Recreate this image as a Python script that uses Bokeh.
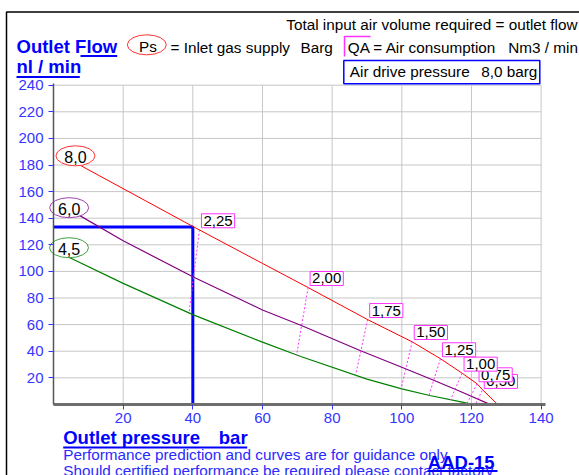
from bokeh.plotting import figure
from bokeh.models import Range1d, LinearAxis, FixedTicker, ColumnDataSource
from bokeh.core.properties import value
from bokeh.embed import file_html
from bokeh.resources import INLINE

# ---------------- data ----------------
x_ticks = [20, 40, 60, 80, 100, 120, 140]
y_ticks = [20, 40, 60, 80, 100, 120, 140, 160, 180, 200, 220, 240]

# Inlet supply pressure curves (Ps, barg): outlet pressure (bar) -> outlet flow (nl/min)
red_x = [7.5, 39.5, 60, 73, 90, 103, 111, 117.3, 121.6, 123.2, 127.5]
red_y = [180, 134.5, 106, 88, 64, 47, 34.5, 23.5, 15.5, 11.0, 0]
purple_x = [4.2, 20, 40, 60, 71, 88, 100.7, 108.8, 117, 125.3]
purple_y = [147, 123, 96, 71, 59.5, 40.5, 27.2, 18.5, 9.5, 0]
green_x = [4.4, 20, 40, 60, 71, 90, 100, 108, 116, 119, 124.5]
green_y = [110.7, 91, 67.5, 46.8, 36, 19, 11.7, 6.7, 2.4, 0.8, 0]

ps_labels = ["8,0", "6,0", "4,5"]
ps_x = [6.3, 4.5, 4.45]
ps_y = [186.9, 147.9, 117.8]
ps_colors = ["#ff3333", "#a040b0", "#40a040"]

# Air consumption (QA, Nm3/min) iso-lines
qa_labels = ["2,25", "2,00", "1,75", "1,50", "1,25", "1,00", "0,75", "0,50"]
qa_x = [41.9, 73.1, 90.2, 103.0, 111.1, 117.3, 121.6, 123.1]
qa_y = [131.3, 87.9, 63.8, 47.3, 34.3, 23.5, 15.5, 10.5]
qa_end_x = [38.9, 69.8, 86.7, 99.8, 107.8, 114.0, 118.8, 121.2]
qa_end_y = [68.5, 37.0, 21.7, 11.8, 6.9, 3.5, 1.0, 0.4]

# operating point
op_x = 40
op_y = 133.3

# ---------------- layout helpers ----------------
W, H = 579, 475
X0, SX = 53.0, 3.483      # page px of x=0, px per unit
Y0, SY = 403.9, 1.33      # page px of y=0, px per unit
BASE_FIX = 6.3            # renderer places alphabetic baseline lower


def dx(px):
    return (px - X0) / SX


def dy(py):
    return (Y0 - py) / SY


FONT = value("Liberation Sans")
BLUE = "#0000ff"
TICKBLUE = "#3535ff"

p = figure(width=W, height=H, output_backend="svg", toolbar_location=None,
           x_range=Range1d(dx(0), dx(W)), y_range=Range1d(dy(H), dy(0)),
           x_axis_type=None, y_axis_type=None, min_border=0,
           outline_line_color=None, background_fill_color="white",
           border_fill_color="white")

# grid
p.segment(x0=x_ticks, y0=[0] * len(x_ticks), x1=x_ticks, y1=[max(y_ticks)] * len(x_ticks),
          line_color="#c6c6c6", line_width=1)
p.segment(x0=[0] * len(y_ticks), y0=y_ticks, x1=[max(x_ticks)] * len(y_ticks), y1=y_ticks,
          line_color="#c6c6c6", line_width=1)

# axes
xa = LinearAxis(fixed_location=0, bounds=(0, 141.3), ticker=FixedTicker(ticks=x_ticks))
ya = LinearAxis(fixed_location=0, bounds=(0, 241.5), ticker=FixedTicker(ticks=y_ticks))
for ax in (xa, ya):
    ax.major_tick_line_color = TICKBLUE
    ax.major_tick_out = 5
    ax.major_tick_in = 0
    ax.minor_tick_line_color = None
    ax.major_label_text_color = TICKBLUE
    ax.major_label_text_font = "Liberation Sans"
    ax.major_label_text_font_size = "15px"
xa.axis_line_color = "#6e6e6e"
xa.axis_line_width = 3
xa.major_label_standoff = 4
ya.axis_line_color = "#555555"
ya.axis_line_width = 1.5
ya.major_label_standoff = 5
p.add_layout(xa, "below")
p.add_layout(ya, "left")

# operating point lines
p.line([0, op_x, op_x], [op_y, op_y, 0], line_color=BLUE, line_width=3)

# curves
p.line(red_x, red_y, line_color="#ff0000", line_width=1)
p.line(purple_x, purple_y, line_color="#800080", line_width=1.2)
p.line(green_x, green_y, line_color="#008000", line_width=1.2)

# QA dotted lines
p.segment(x0=qa_x, y0=qa_y, x1=qa_end_x, y1=qa_end_y,
          line_color="#ff33ff", line_dash="2 2", line_width=1)

# QA labels (draw smallest first so larger overlay)
qsrc = ColumnDataSource(dict(x=qa_x[::-1], y=qa_y[::-1], t=qa_labels[::-1]))
p.text(x="x", y="y", text="t", source=qsrc, text_font=FONT, text_font_size="15px",
       text_color="black", text_align="left", text_baseline="bottom",
       background_fill_color="white", border_line_color="#ff33ff", padding=2,
       x_offset=2, y_offset=-2)

# Ps ellipses on curves
p.ellipse(x=ps_x, y=ps_y, width=39, height=20, width_units="screen", height_units="screen",
          fill_color="white", line_color=ps_colors, line_width=1)
p.text(x=ps_x, y=ps_y, text=ps_labels, text_font=FONT, text_font_size="16px",
       text_color="black", text_align="center", text_baseline="middle", y_offset=1)


def txt(px, py, s, size="15.3px", color="black", bold=False, align="left"):
    p.text(x=[dx(px)], y=[dy(py - BASE_FIX)], text=[s], text_font=FONT, text_font_size=size,
           text_color=color, text_font_style="bold" if bold else "normal",
           text_align=align, text_baseline="alphabetic")


def uline(px0, px1, py):
    p.line([dx(px0), dx(px1)], [dy(py), dy(py)], line_color=BLUE, line_width=2)


# frame border
p.line([dx(6), dx(6), dx(579)], [dy(475), dy(11.5), dy(11.5)],
       line_color="black", line_width=1.5)

# header
txt(577, 30, "Total input air volume required = outlet flow", align="right")
txt(16, 52.3, "Outlet Flow", size="18.5px", color=BLUE, bold=True)
uline(80, 116.7, 55.5)
txt(16, 72.7, "nl / min", size="18.5px", color=BLUE, bold=True)
uline(16, 79.3, 76.5)
p.ellipse(x=[dx(146.3)], y=[dy(44.3)], width=39, height=20, width_units="screen",
          height_units="screen", fill_color=None, line_color="#ff3333", line_width=1)
txt(147.5, 52.3, "Ps", align="center")
txt(170, 53, "= Inlet gas supply")
txt(300, 53, "Barg")
p.line([dx(370), dx(344), dx(344)], [dy(36), dy(36), dy(56)], line_color="#ff33ff", line_width=1.5)
txt(347.3, 53.3, "QA = Air consumption")
txt(507.7, 53.3, "Nm3 / min")
p.quad(left=[dx(343.3)], right=[dx(539.3)], top=[dy(60)], bottom=[dy(83.3)],
       fill_color=None, line_color=BLUE, line_width=1.5)
txt(349.3, 77.3, "Air drive pressure")
txt(480.7, 77.3, "8,0 barg")

# footer
txt(62.7, 443.3, "Outlet pressure", size="18.5px", color=BLUE, bold=True)
txt(218.3, 443.3, "bar", size="18.5px", color=BLUE, bold=True)
uline(62.7, 246.7, 447)
txt(62.7, 460, "Performance prediction and curves are for guidance only", color="#2a2aff")
txt(62.7, 476, "Should certified performance be required please contact factory", color="#2a2aff")
txt(427.3, 468.3, "AAD-15", size="18.5px", color=BLUE, bold=True)
uline(427, 497, 470.5)

open("out.html", "w").write(file_html(p, INLINE))
